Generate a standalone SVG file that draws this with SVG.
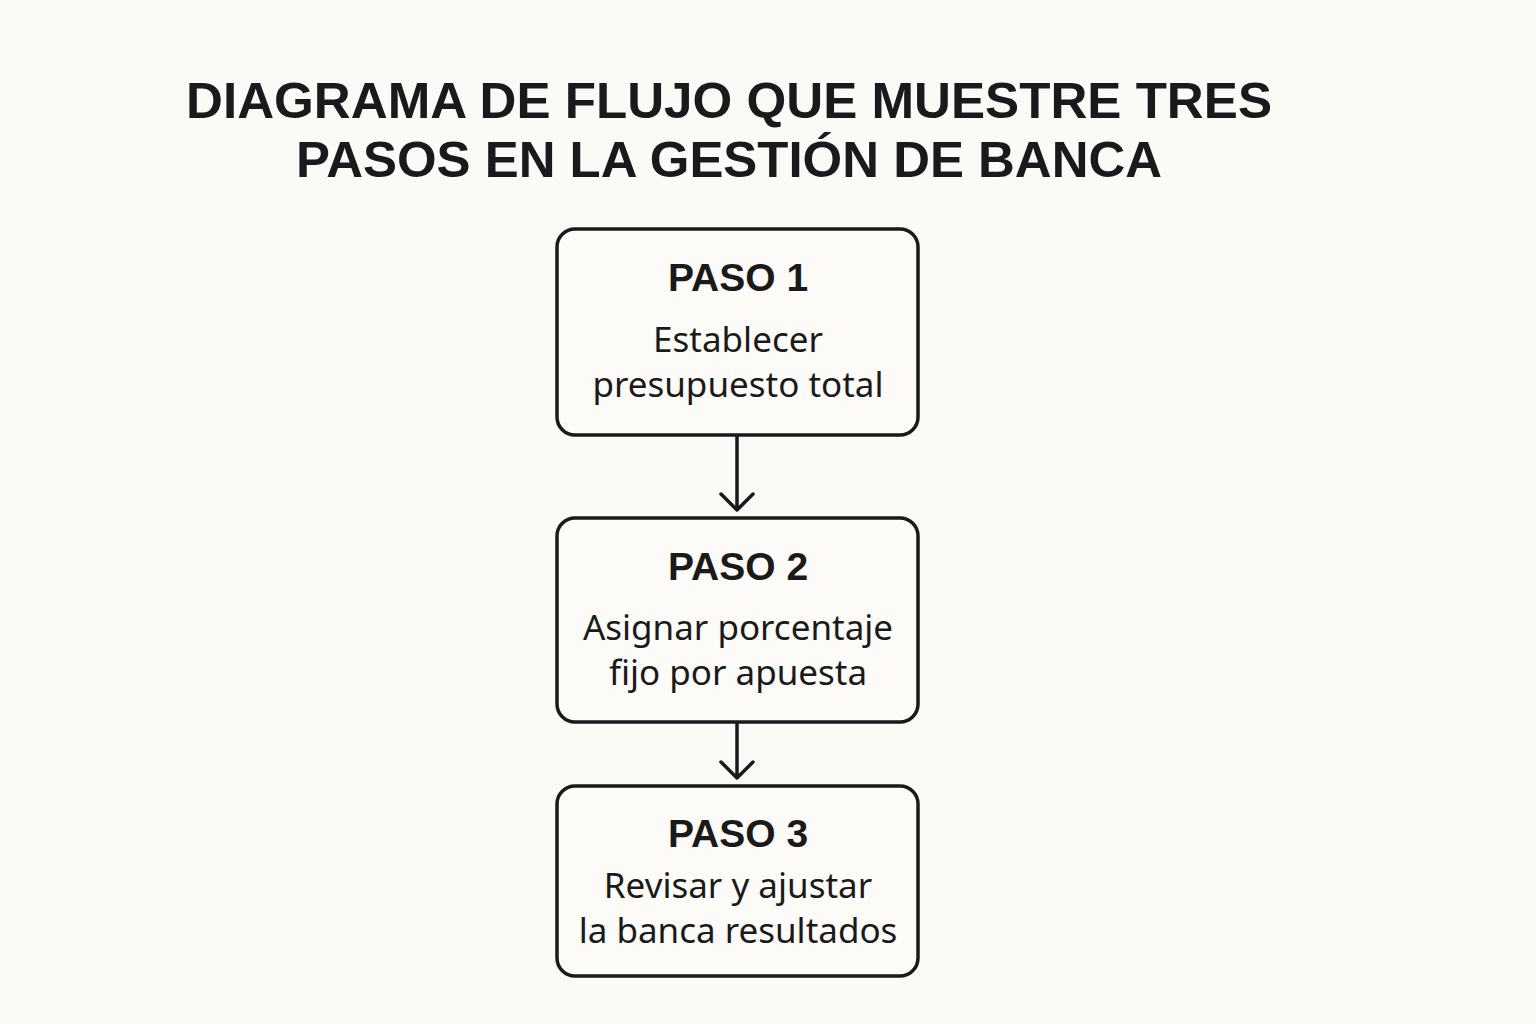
<svg xmlns="http://www.w3.org/2000/svg" width="1536" height="1024" viewBox="0 0 1536 1024">
<style>
.t{font-family:"Liberation Sans",Arial,sans-serif;font-weight:bold;font-size:50px;fill:#1a1a1a;text-anchor:middle}
.h{font-family:"Liberation Sans",Arial,sans-serif;font-weight:bold;font-size:39px;fill:#1a1a1a;text-anchor:middle}
.b{font-family:"Noto Sans","Open Sans",sans-serif;font-size:35px;fill:#1a1a1a;text-anchor:middle}
.box{fill:#fcfbf8;stroke:#1a1a1a;stroke-width:3.5}
.c{stroke:#1a1a1a;stroke-width:3.5;fill:none;stroke-linecap:round;stroke-linejoin:round}
</style>
<rect width="1536" height="1024" fill="#fbfaf6"/>
<text class="t" x="729" y="118" textLength="1086" lengthAdjust="spacingAndGlyphs">DIAGRAMA DE FLUJO QUE MUESTRE TRES</text>
<text class="t" x="729" y="177" textLength="866" lengthAdjust="spacingAndGlyphs">PASOS EN LA GESTIÓN DE BANCA</text>
<g id="connectors">
<path class="c" d="M737 436V510M721 494L737 510L753 494"/>
<path class="c" d="M737 723V778M721 762L737 778L753 762"/>
</g>
<g id="paso1">
<rect class="box" x="557" y="229" width="361" height="206" rx="18"/>
<text class="h" x="738" y="291">PASO 1</text>
<text class="b" x="738" y="352">Establecer</text>
<text class="b" x="738" y="397">presupuesto total</text>
</g>
<g id="paso2">
<rect class="box" x="557" y="518" width="361" height="204" rx="18"/>
<text class="h" x="738" y="580">PASO 2</text>
<text class="b" x="738" y="640">Asignar porcentaje</text>
<text class="b" x="738" y="685">fijo por apuesta</text>
</g>
<g id="paso3">
<rect class="box" x="557" y="786" width="361" height="190" rx="18"/>
<text class="h" x="738" y="847">PASO 3</text>
<text class="b" x="738" y="898">Revisar y ajustar</text>
<text class="b" x="738" y="943">la banca resultados</text>
</g>
</svg>
